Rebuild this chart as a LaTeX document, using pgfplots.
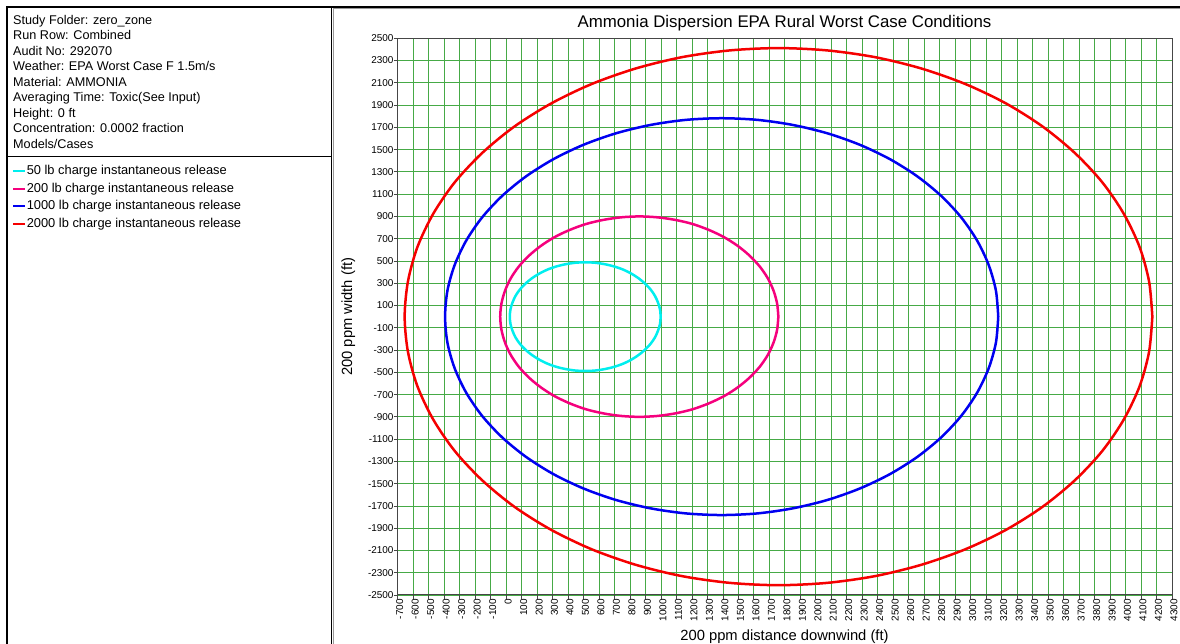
\documentclass[border=0pt]{standalone}
\usepackage{fontspec}
\setmainfont{Liberation Sans}
\usepackage{pgfplots}
\pgfplotsset{compat=1.18}
\definecolor{gridgreen}{RGB}{70,170,70}
\definecolor{axisgray}{RGB}{70,70,70}
\definecolor{c50}{RGB}{0,238,238}
\definecolor{c200}{RGB}{245,0,125}
\definecolor{c1000}{RGB}{0,0,240}
\definecolor{c2000}{RGB}{245,0,0}

\begin{document}
\begin{tikzpicture}[x=1bp,y=1bp]
\path[use as bounding box] (0,0) rectangle (1180,644);
% panel frames
\draw[line width=1.3bp] (7,0) -- (7,637) -- (1180,637);
\draw[line width=0.7bp, black!40] (333.5,0) -- (333.5,635.2) -- (1180,635.2);
\draw[line width=1.1bp] (331.5,0) -- (331.5,637);
\draw[line width=0.9bp] (7,487.5) -- (331.5,487.5);
% study info
\foreach \t [count=\i] in {Study Folder: zero\_zone, Run Row: Combined, Audit No: 292070,
  Weather: EPA Worst Case F 1.5m/s, Material: AMMONIA, Averaging Time: Toxic(See Input),
  Height: 0 ft, Concentration: 0.0002 fraction, Models/Cases}
  \node[anchor=base west, inner sep=0pt, font=\fontsize{12.7}{14}\selectfont]
    at (13, {644-24.5-15.5*(\i-1)}) {\t};
% titles
\node[anchor=base, inner sep=0pt, font=\fontsize{16.9}{19}\selectfont]
  at (784.5, 616) {Ammonia Dispersion EPA Rural Worst Case Conditions};
\node[anchor=base, inner sep=0pt, font=\fontsize{14.8}{17}\selectfont]
  at (784.5, 3.6) {200 ppm distance downwind (ft)};
\node[anchor=base, inner sep=0pt, rotate=90, font=\fontsize{14.8}{17}\selectfont]
  at (352, 327.3) {200 ppm width (ft)};

\begin{axis}[
  at={(397.7bp,49bp)}, anchor=south west,
  scale only axis, width=774.3bp, height=556.7bp,
  xmin=-700, xmax=4300, ymin=-2500, ymax=2500,
  xtick={-700,-600,...,4300},
  ytick={-2500,-2300,...,2500},
  grid=major,
  major grid style={gridgreen, line width=0.8bp},
  axis line style={axisgray, line width=1bp},
  tick style={axisgray, line width=0.8bp},
  tick align=outside, major tick length=4bp, tick pos=left,
  /pgf/number format/assume math mode=true,
  /pgf/number format/1000 sep={},
  xticklabel style={rotate=90, anchor=east, inner sep=0pt, yshift=-2bp,
    font=\fontsize{10}{11}\selectfont},
  yticklabel style={anchor=east, inner sep=0pt, xshift=0bp,
    font=\fontsize{10}{11}\selectfont},
  legend cell align=left,
  legend image code/.code={\draw[#1, line width=2bp] (0bp,0bp) -- (12bp,0bp);},
  legend style={at={(axis description cs:-0.498,0.772)}, anchor=north west,
    draw=none, fill=none, inner sep=0pt, row sep=5.4bp, column sep=0.5bp,
    font=\fontsize{12.9}{14}\selectfont,
    nodes={inner sep=0pt, text height=9.4bp, text depth=2.7bp}},
  every axis plot/.append style={line width=2.5bp, smooth},
]
% 50 lb
\addplot[c50] coordinates {
 (998,0) (994,64) (981,126) (961,187) (933,244) (897,297) (855,345)
 (808,387) (755,423) (697,451) (637,471) (575,484) (511,488)
 (447,484) (385,471) (325,451) (268,423) (215,387) (167,345)
 (125,297) (89,244) (61,187) (41,126) (28,64) (24,0)
 (28,-64) (41,-126) (61,-187) (89,-244) (125,-297) (167,-345)
 (215,-387) (268,-423) (325,-451) (385,-471) (447,-484) (511,-488)
 (575,-484) (637,-471) (697,-451) (755,-423) (808,-387) (855,-345)
 (897,-297) (933,-244) (961,-187) (981,-126) (994,-64) (998,0)};
\addlegendentry{50 lb charge instantaneous release}
% 200 lb
\addplot[c200] coordinates {
 (1758,0) (1750,118) (1727,233) (1690,344) (1638,450) (1572,548) (1495,636)
 (1407,714) (1309,779) (1204,832) (1092,869) (977,892) (860,900)
 (743,892) (628,869) (516,832) (411,779) (313,714) (225,636)
 (148,548) (82,450) (30,344) (-7,233) (-30,118) (-38,0)
 (-30,-118) (-7,-233) (30,-344) (82,-450) (148,-548) (225,-636)
 (313,-714) (411,-779) (516,-832) (628,-869) (743,-892) (860,-900)
 (977,-892) (1092,-869) (1204,-832) (1309,-779) (1407,-714) (1495,-636)
 (1572,-548) (1638,-450) (1690,-344) (1727,-233) (1750,-118) (1758,0)};
\addlegendentry{200 lb charge instantaneous release}
% 1000 lb
\addplot[c1000] coordinates {
 (3178,0) (3163,233) (3117,461) (3042,682) (2939,891) (2809,1085) (2655,1260)
 (2479,1414) (2285,1543) (2076,1646) (1854,1721) (1625,1767) (1392,1782)
 (1159,1767) (930,1721) (708,1646) (499,1543) (305,1414) (129,1260)
 (-25,1085) (-155,891) (-258,682) (-333,461) (-379,233) (-394,0)
 (-379,-233) (-333,-461) (-258,-682) (-155,-891) (-25,-1085) (129,-1260)
 (305,-1414) (499,-1543) (708,-1646) (930,-1721) (1159,-1767) (1392,-1782)
 (1625,-1767) (1854,-1721) (2076,-1646) (2285,-1543) (2479,-1414) (2655,-1260)
 (2809,-1085) (2939,-891) (3042,-682) (3117,-461) (3163,-233) (3178,0)};
\addlegendentry{1000 lb charge instantaneous release}
% 2000 lb
\addplot[c2000] coordinates {
 (4173,0) (4152,315) (4091,624) (3989,923) (3850,1206) (3674,1468) (3466,1706)
 (3229,1914) (2966,2089) (2683,2228) (2384,2330) (2074,2391) (1759,2412)
 (1444,2391) (1134,2330) (835,2228) (552,2089) (290,1914) (52,1706)
 (-156,1468) (-332,1206) (-471,923) (-573,624) (-634,315) (-655,0)
 (-634,-315) (-573,-624) (-471,-923) (-332,-1206) (-156,-1468) (52,-1706)
 (290,-1914) (552,-2089) (835,-2228) (1134,-2330) (1444,-2391) (1759,-2412)
 (2074,-2391) (2384,-2330) (2683,-2228) (2966,-2089) (3229,-1914) (3466,-1706)
 (3674,-1468) (3850,-1206) (3989,-923) (4091,-624) (4152,-315) (4173,0)};
\addlegendentry{2000 lb charge instantaneous release}
\end{axis}
\end{tikzpicture}
\end{document}
